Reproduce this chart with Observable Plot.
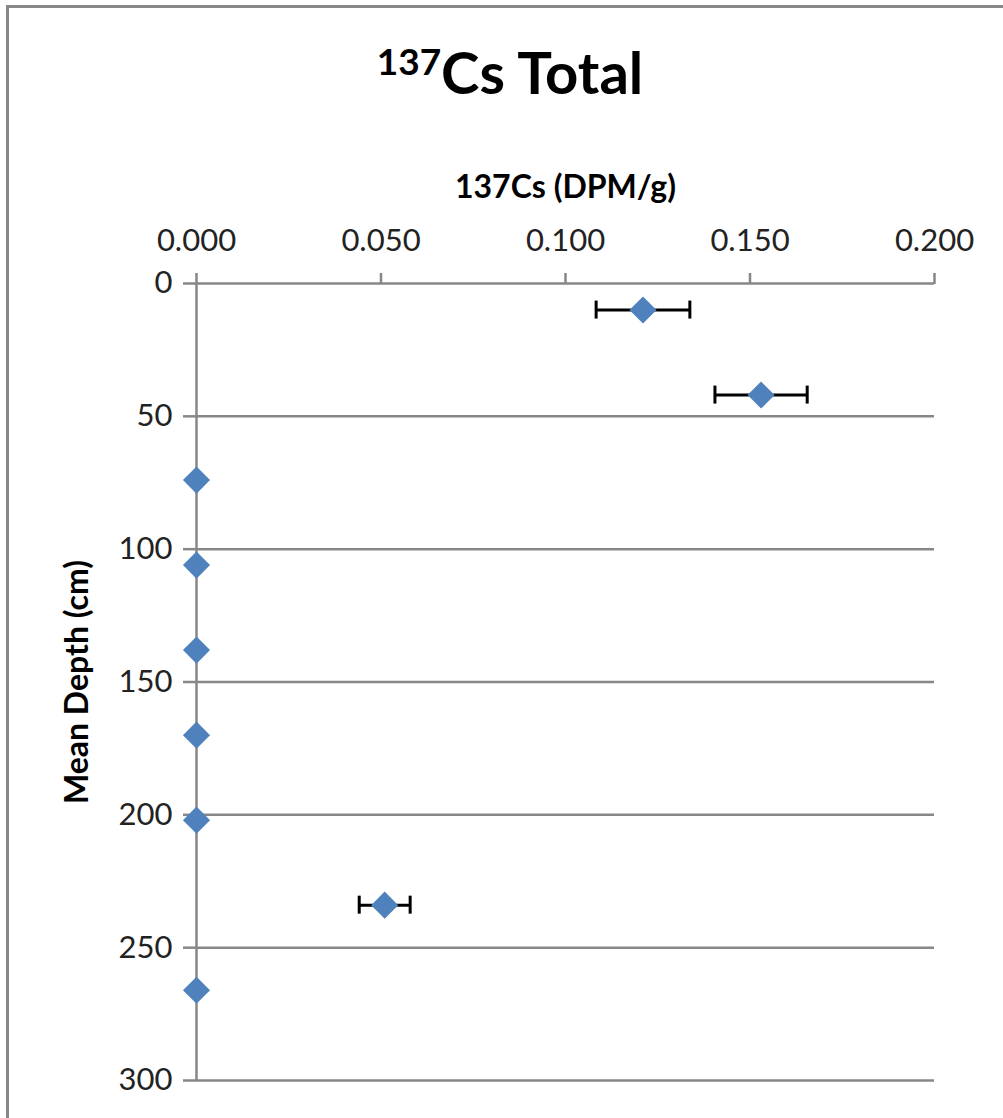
<!DOCTYPE html>
<html><head><meta charset="utf-8">
<script src="https://cdn.jsdelivr.net/npm/d3@7"></script>
<script src="https://cdn.jsdelivr.net/npm/@observablehq/plot@0.6"></script>
<style>
body{margin:0;background:#fff;}
#wrap{position:relative;width:1003px;height:1118px;overflow:hidden;}
#frame{position:absolute;left:6px;top:5px;width:1100px;height:1200px;border-left:3px solid #888;border-top:3px solid #888;pointer-events:none;}
#wrap svg{position:absolute;left:0;top:0;}
</style>
</head><body>
<div id="wrap"><div id="frame"></div></div>
<script>
const depth = [10, 42, 74, 106, 138, 170, 202, 234, 266];
const cs = [0.121, 0.153, 0, 0, 0, 0, 0, 0.051, 0];
const csErr = [0.0127, 0.0125, 0, 0, 0, 0, 0, 0.0069, 0];
const xTicks = [0, 0.05, 0.1, 0.15, 0.2];
const yTicks = [0, 50, 100, 150, 200, 250, 300];
const titleSup = "137";
const titleMain = "Cs Total";
const xLabel = "137Cs (DPM/g)";
const yLabel = "Mean Depth (cm)";

const rows = depth.map((d, i) => ({depth: d, cs: cs[i], err: csErr[i]}));
const bars = rows.filter(r => r.err > 0);
const grid = "#878787";

const plot = Plot.plot({
  width: 1003, height: 1118,
  marginLeft: 196, marginRight: 69, marginTop: 283, marginBottom: 38,
  style: {fontFamily: "Lato, sans-serif", fontSize: "31px", background: "transparent", overflow: "visible"},
  x: {domain: [0, 0.2], axis: null},
  y: {domain: [0, 300], reverse: true, axis: null},
  marks: [
    Plot.ruleY(yTicks, {x1: 0, x2: 0.2, stroke: grid, strokeWidth: 2.5}),
    Plot.ruleX([0], {y1: 0, y2: 300, stroke: grid, strokeWidth: 2.5}),
    Plot.axisX(xTicks, {anchor: "top", tickFormat: d3.format(".3f"), tickSize: 11, tickPadding: 22, stroke: grid, strokeWidth: 2.5, fill: "#222", label: null, fontSize: 31}),
    Plot.axisY(yTicks, {anchor: "left", tickSize: 13, tickPadding: 11, stroke: grid, strokeWidth: 2.5, fill: "#222", label: null, fontSize: 31}),
    Plot.ruleY(bars, {y: "depth", x1: d => d.cs - d.err, x2: d => d.cs + d.err, stroke: "#000", strokeWidth: 3}),
    Plot.ruleX(bars, {x: d => d.cs - d.err, y1: "depth", y2: "depth", insetTop: -9, insetBottom: -9, stroke: "#000", strokeWidth: 3}),
    Plot.ruleX(bars, {x: d => d.cs + d.err, y1: "depth", y2: "depth", insetTop: -9, insetBottom: -9, stroke: "#000", strokeWidth: 3}),
    Plot.dot(rows, {x: "cs", y: "depth", symbol: "diamond2", r: 12.2, fill: "#4F81BD", stroke: "none"}),
    Plot.text([xLabel], {frameAnchor: "top", dy: -86, lineAnchor: "bottom", fontWeight: "bold", fontSize: 32, fill: "#000"}),
    Plot.text([yLabel], {frameAnchor: "left", textAnchor: "middle", rotate: -90, dx: -109, lineAnchor: "bottom", fontWeight: "bold", fontSize: 32, fill: "#000"})
  ]
});
document.getElementById("wrap").appendChild(plot);

const t = d3.select(plot).append("text")
  .attr("x", 510).attr("y", 94).attr("text-anchor", "middle")
  .attr("font-family", "Lato, sans-serif").attr("font-weight", "bold").attr("fill", "#000");
t.append("tspan").attr("font-size", 37).attr("dy", -19).text(titleSup);
t.append("tspan").attr("font-size", 58).attr("dy", 19).text(titleMain);
</script>
</body></html>
